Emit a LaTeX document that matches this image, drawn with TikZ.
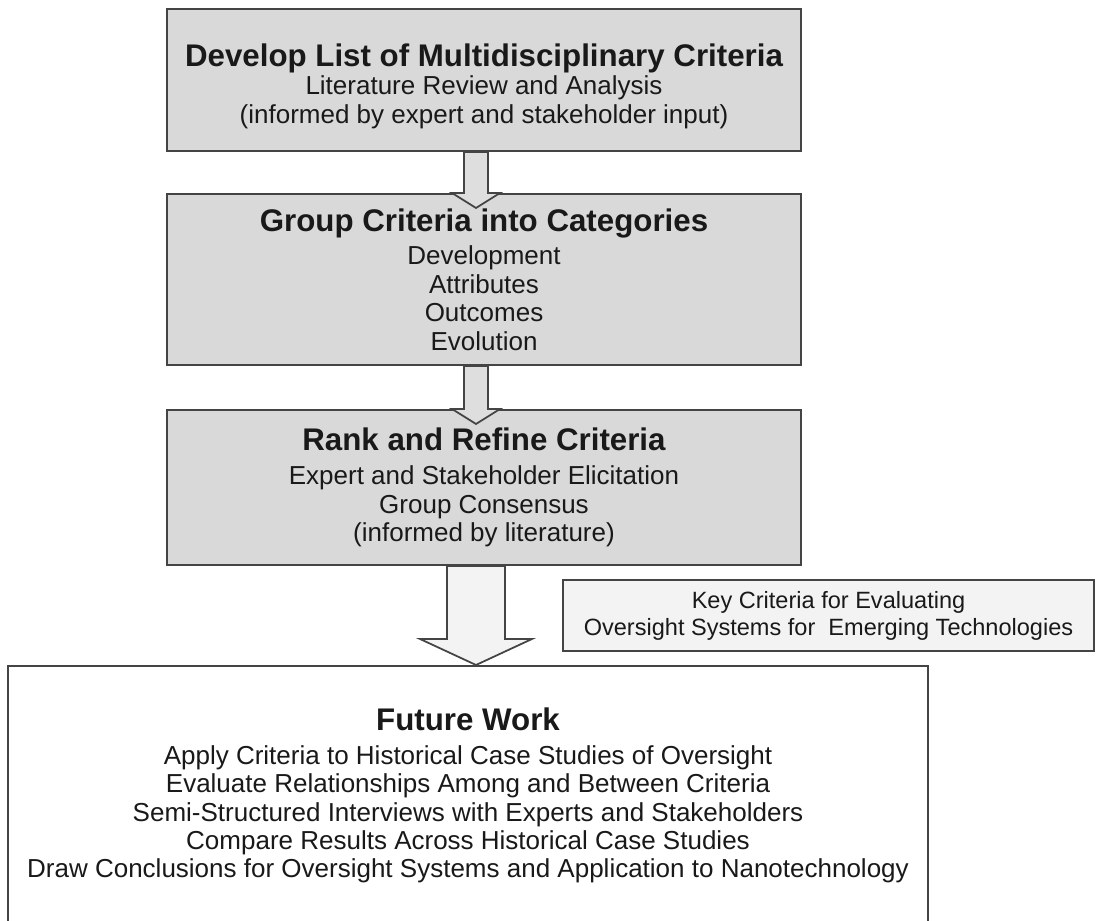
\documentclass[tikz,border=0pt]{standalone}
\usepackage{fontspec}
\setmainfont{Liberation Sans}
\usetikzlibrary{calc}
\definecolor{boxgray}{HTML}{D9D9D9}
\definecolor{edgegray}{HTML}{444444}
\definecolor{arrowgray}{HTML}{DEDEDE}
\definecolor{palegray}{HTML}{F3F3F3}
\newcommand{\bodytext}{\fontsize{14.8pt}{16.2pt}\selectfont}
\newcommand{\headtext}{\fontsize{17.8pt}{20pt}\selectfont\bfseries}
\newcommand{\keytext}{\fontsize{13.4pt}{15.3pt}\selectfont}
% #1 style, #2 start, #3 tip, #4 half shaft, #5 half head, #6 head length
\newcommand{\blockarrow}[6]{%
\draw[#1] ($#2+(-#4,0)$) -- ($#3+(-#4,-#6)$) -- ($#3+(-#5,-#6)$) -- #3
  -- ($#3+(#5,-#6)$) -- ($#3+(#4,-#6)$) -- ($#2+(#4,0)$) -- cycle;}
\begin{document}
\begin{tikzpicture}[x=0.02cm,y=-0.02cm,
  stage/.style={draw=edgegray, line width=1.2pt, fill=boxgray, minimum width=12.68cm,
    inner sep=0pt, align=center, text=black!90, font=\bodytext},
  keybox/.style={draw=edgegray, line width=1.2pt, fill=palegray, minimum width=10.62cm,
    minimum height=1.42cm, inner sep=0pt, align=center, text=black!90, font=\keytext},
  workbox/.style={draw=edgegray, line width=1.2pt, fill=white, minimum width=18.4cm,
    minimum height=5.18cm, inner sep=0pt, align=center, text=black!90, font=\bodytext},
  smallarrow/.style={draw=edgegray, line width=1pt, fill=arrowgray, line join=miter},
  bigarrow/.style={draw=edgegray, line width=1pt, fill=palegray, line join=miter}]
\useasboundingbox (0,0) rectangle (1097,920);
\node[stage, minimum height=2.84cm] (develop) at (484,80)
  {\rule{0pt}{20pt}{\headtext Develop List of Multidisciplinary Criteria}\\
   Literature Review and Analysis\\
   (informed by expert and stakeholder input)};
\node[stage, minimum height=3.42cm] (group) at (484,279.5)
  {{\headtext Group Criteria into Categories}\\[3pt]
   Development\\ Attributes\\ Outcomes\\ Evolution};
\node[stage, minimum height=3.1cm] (rank) at (484,487.5)
  {{\headtext Rank and Refine Criteria}\\[3pt]
   Expert and Stakeholder Elicitation\\
   Group Consensus\\
   (informed by literature)};
\node[keybox] (key) at (828.5,615.5)
  {Key Criteria for Evaluating\\ Oversight Systems for\ \ Emerging Technologies};
\node[workbox] (future) at (468,795.5)
  {{\headtext Future Work}\\[3pt]
   Apply Criteria to Historical Case Studies of Oversight\\
   Evaluate Relationships Among and Between Criteria\\
   Semi-Structured Interviews with Experts and Stakeholders\\
   Compare Results Across Historical Case Studies\\
   Draw Conclusions for Oversight Systems and Application to Nanotechnology};
\coordinate (axis) at (476,0);
\coordinate (startA) at (axis |- develop.south);
\coordinate (tipA) at ($(axis |- group.north)+(0,15)$);
\coordinate (startB) at (axis |- group.south);
\coordinate (tipB) at ($(axis |- rank.north)+(0,15)$);
\coordinate (startC) at (axis |- rank.south);
\coordinate (tipC) at (axis |- future.north);
\blockarrow{smallarrow}{(startA)}{(tipA)}{12}{24}{15}
\blockarrow{smallarrow}{(startB)}{(tipB)}{12}{24}{15}
\blockarrow{bigarrow}{(startC)}{(tipC)}{29}{56}{26}
\end{tikzpicture}
\end{document}
